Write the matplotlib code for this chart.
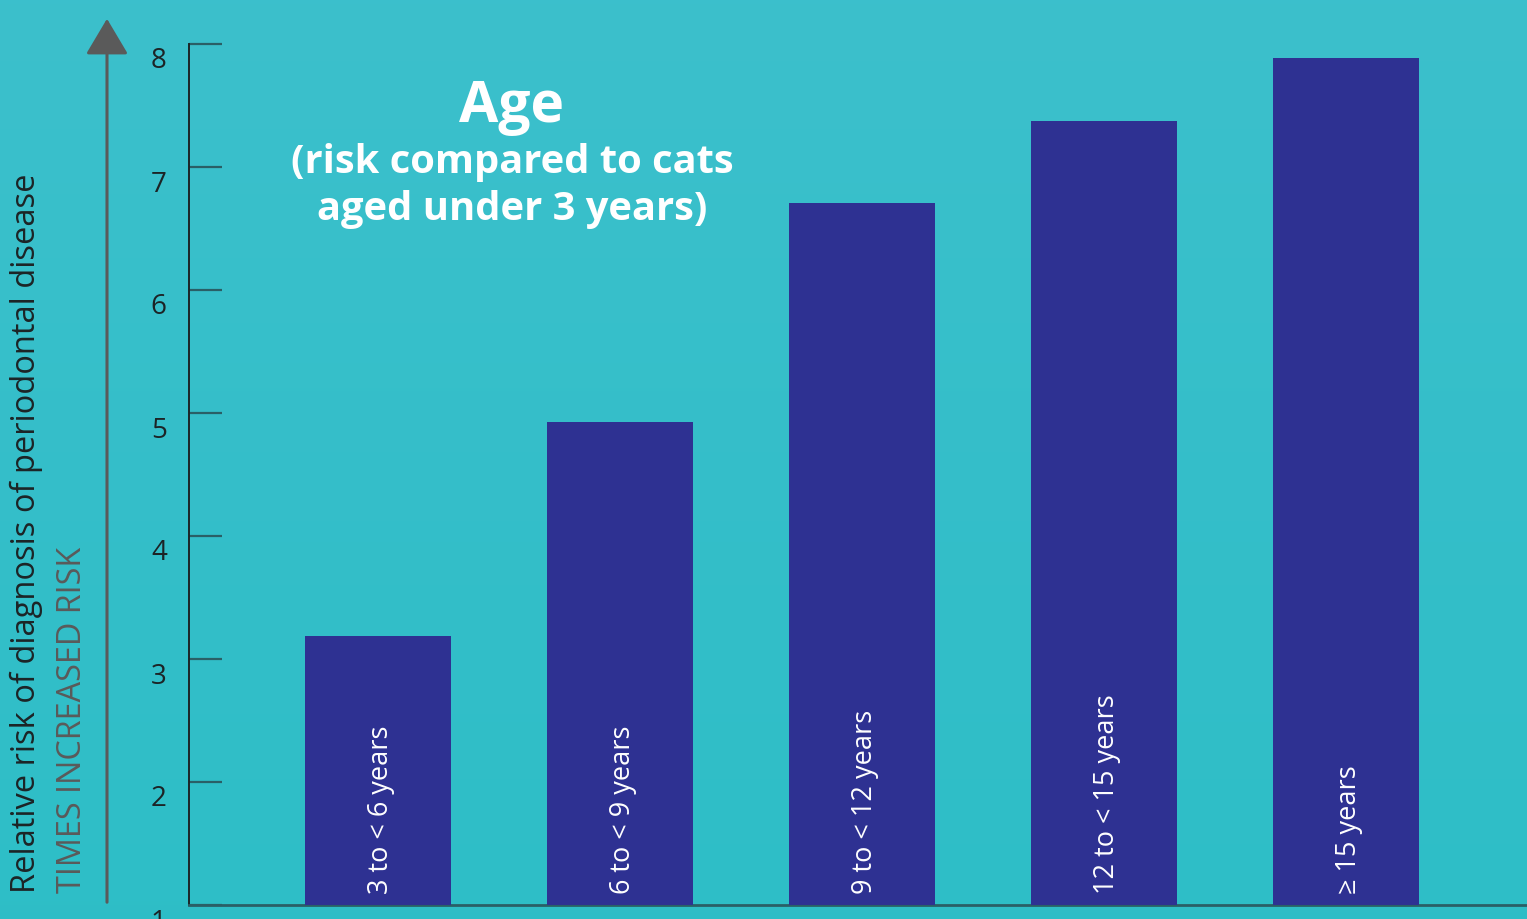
"""
Age vs relative risk of periodontal disease in cats — bar chart
"""
import numpy as np
import matplotlib
matplotlib.use("Agg")
import matplotlib.pyplot as plt
from matplotlib.transforms import ScaledTranslation

# ── Data ────────────────────────────────────────────────────────
age_groups = ["3 to < 6 years", "6 to < 9 years", "9 to < 12 years",
              "12 to < 15 years", "\u2265 15 years"]
relative_risk = [3.19, 4.93, 6.71, 7.37, 7.89]
y_ticks = [1, 2, 3, 4, 5, 6, 7, 8]

# ── Colours ─────────────────────────────────────────────────────
C_BAR = "#2E3192"
C_BG_TOP = (0.235, 0.752, 0.800)
C_BG_BOT = (0.180, 0.745, 0.780)
C_DARK = "#1c2426"
C_GREY = "#5a5a5a"
C_TICK = "#2a5f66"

FONT = ["Open Sans", "DejaVu Sans"]
plt.rcParams["font.family"] = FONT

W, H = 1527, 919
fig = plt.figure(figsize=(W / 100, H / 100), dpi=100)

# gradient background
bg = fig.add_axes([0, 0, 1, 1], zorder=-10)
grad = np.linspace(0, 1, 256)[:, None]
cols = np.array(C_BG_TOP)[None, None, :] * (1 - grad[..., None]) + \
       np.array(C_BG_BOT)[None, None, :] * grad[..., None]
bg.imshow(np.repeat(cols, 2, axis=1), aspect="auto", extent=[0, 1, 0, 1])
bg.axis("off")

# ── Main axes ───────────────────────────────────────────────────
left, right = 189 / W, 1.0
bottom, top = (H - 905) / H, (H - 44) / H
ax = fig.add_axes([left, bottom, right - left, top - bottom])
ax.patch.set_alpha(0)

x = np.arange(len(age_groups))
ax.bar(x, np.array(relative_risk) - 1, bottom=1, width=0.603, color=C_BAR, zorder=3)
ax.set_xlim(-0.781, 4.748)
ax.set_ylim(1, 8)

for i, lab in enumerate(age_groups):
    ax.annotate(lab, xy=(i, 1), xytext=(2, 8), textcoords="offset points",
                rotation=90, ha="center", va="bottom", color="white",
                fontsize=19.5, zorder=4)

ax.set_xticks([])
ax.set_yticks(y_ticks)
ax.set_yticklabels([str(t) for t in y_ticks])
ax.tick_params(axis="y", direction="in", length=24, width=1.6, color=C_TICK,
               labelsize=20, labelcolor=C_DARK, pad=16)
off = ScaledTranslation(0, -0.14, fig.dpi_scale_trans)
for lbl in ax.get_yticklabels():
    lbl.set_transform(lbl.get_transform() + off)
    lbl.set_clip_on(False)

for s in ["top", "right"]:
    ax.spines[s].set_visible(False)
ax.spines["left"].set_color(C_DARK)
ax.spines["left"].set_linewidth(1.4)
ax.spines["bottom"].set_color(C_TICK)
ax.spines["bottom"].set_linewidth(2)

# ── Title ───────────────────────────────────────────────────────
fig.text(512 / W, 1 - 107 / H, "Age", ha="center", va="center",
         color="white", fontsize=41, fontweight="bold")
fig.text(512 / W, 1 - 186 / H, "(risk compared to cats\naged under 3 years)",
         ha="center", va="center", color="white", fontsize=28.7,
         fontweight="bold", linespacing=1.25)

# ── Y labels and arrow ──────────────────────────────────────────
fig.text(26 / W, 1 - 893 / H, "Relative risk of diagnosis of periodontal disease",
         rotation=90, ha="center", va="bottom", color=C_DARK, fontsize=23.5)
fig.text(73 / W, 1 - 893 / H, "TIMES INCREASED RISK",
         rotation=90, ha="center", va="bottom", color=C_GREY, fontsize=23.3)

fig.add_artist(matplotlib.patches.FancyArrowPatch(
    (107 / W, 1 - 905 / H), (107 / W, 1 - 16 / H), transform=fig.transFigure,
    arrowstyle="-|>,head_length=1.6,head_width=0.95", mutation_scale=14,
    color="#5a5a5a", lw=2.2))

fig.savefig("out.png", dpi=100, facecolor=C_BG_TOP)
